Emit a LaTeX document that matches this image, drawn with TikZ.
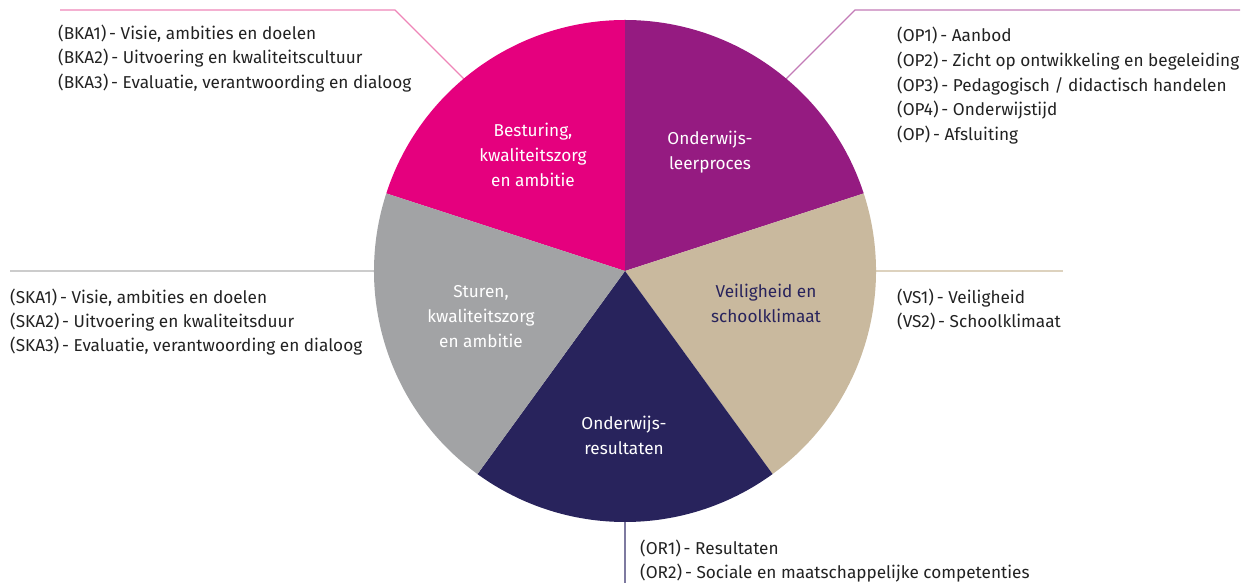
\documentclass[tikz,border=0pt]{standalone}
\usepackage{fontspec}
\setmainfont{Fira Sans}
\definecolor{cpink}{HTML}{E5007E}
\definecolor{cpurple}{HTML}{951B81}
\definecolor{cbeige}{HTML}{C9B99E}
\definecolor{cnavy}{HTML}{28235C}
\definecolor{cgray}{HTML}{A2A3A5}
\definecolor{lpink}{HTML}{EE86B8}
\definecolor{lpurple}{HTML}{C37BB7}
\definecolor{lbeige}{HTML}{DDD2BE}
\definecolor{lgray}{HTML}{CCCCCC}
\definecolor{lnavy}{HTML}{7E7AA0}
\definecolor{ctext}{HTML}{222222}
\begin{document}
\begin{tikzpicture}[x=1pt,y=1pt,
  item/.style={anchor=base west,inner sep=0pt,text=ctext,font=\fontsize{17.2}{24}\selectfont},
  seglabel/.style={align=center,inner sep=0pt,font=\fontsize{17.2}{25}\selectfont},
  leader/.style={line width=1.2pt}]
\useasboundingbox (0,0) rectangle (1249,583);
\coordinate (c) at (625,312);
% leader lines
\coordinate (pk1) at (60,573);
\coordinate (pk2) at (395,573);
\coordinate (pk3) at (485,483);
\draw[leader,lpink] (pk1) -- (pk2) -- (pk3);
\coordinate (pu1) at (1240,573);
\coordinate (pu2) at (855,573);
\coordinate (pu3) at (765,483);
\draw[leader,lpurple] (pu1) -- (pu2) -- (pu3);
\coordinate (gr1) at (10,312);
\draw[leader,lgray] (gr1) -- (c);
\coordinate (be1) at (1063,312);
\draw[leader,lbeige] (c) -- (be1);
\coordinate (na1) at (625,0);
\draw[leader,lnavy] (c) -- (na1);
% pie
\fill[cpink] (c) -- ++(90:251) arc[start angle=90,end angle=162,radius=251] -- cycle;
\fill[cpurple] (c) -- ++(18:251) arc[start angle=18,end angle=90,radius=251] -- cycle;
\fill[cbeige] (c) -- ++(-54:251) arc[start angle=-54,end angle=18,radius=251] -- cycle;
\fill[cnavy] (c) -- ++(-126:251) arc[start angle=-126,end angle=-54,radius=251] -- cycle;
\fill[cgray] (c) -- ++(162:251) arc[start angle=162,end angle=234,radius=251] -- cycle;
% segment labels
\node[seglabel,white] (sbk) at (533,428) {Besturing,\\kwaliteitszorg\\en ambitie};
\node[seglabel,white] (sop) at (710,430.5) {Onderwijs-\\leerproces};
\node[seglabel,cnavy] (svs) at (766,279.5) {Veiligheid en\\schoolklimaat};
\node[seglabel,white] (ssk) at (481,266) {Sturen,\\kwaliteitszorg\\en ambitie};
\node[seglabel,white] (sor) at (624,147.5) {Onderwijs-\\resultaten};
% item lists
\node[item] (bka1) at (58,543.5) {(BKA1)\,- Visie, ambities en doelen};
\node[item] (bka2) at (58,519) {(BKA2)\,- Uitvoering en kwaliteitscultuur};
\node[item] (bka3) at (58,494.5) {(BKA3)\,- Evaluatie, verantwoording en dialoog};
\node[item] (op1) at (897,541.5) {(OP1)\,- Aanbod};
\node[item] (op2) at (897,516.5) {(OP2)\,- Zicht op ontwikkeling en begeleiding};
\node[item] (op3) at (897,491.5) {(OP3)\,- Pedagogisch / didactisch handelen};
\node[item] (op4) at (897,467.5) {(OP4)\,- Onderwijstijd};
\node[item] (op5) at (897,442.5) {(OP)\,- Afsluiting};
\node[item] (ska1) at (10,279.5) {(SKA1)\,- Visie, ambities en doelen};
\node[item] (ska2) at (10,255.5) {(SKA2)\,- Uitvoering en kwaliteitsduur};
\node[item] (ska3) at (10,231.5) {(SKA3)\,- Evaluatie, verantwoording en dialoog};
\node[item] (vs1) at (897,279.5) {(VS1)\,- Veiligheid};
\node[item] (vs2) at (897,255.5) {(VS2)\,- Schoolklimaat};
\node[item] (or1) at (640,28.5) {(OR1)\,- Resultaten};
\node[item] (or2) at (640,4.5) {(OR2)\,- Sociale en maatschappelijke competenties};
\end{tikzpicture}
\end{document}
